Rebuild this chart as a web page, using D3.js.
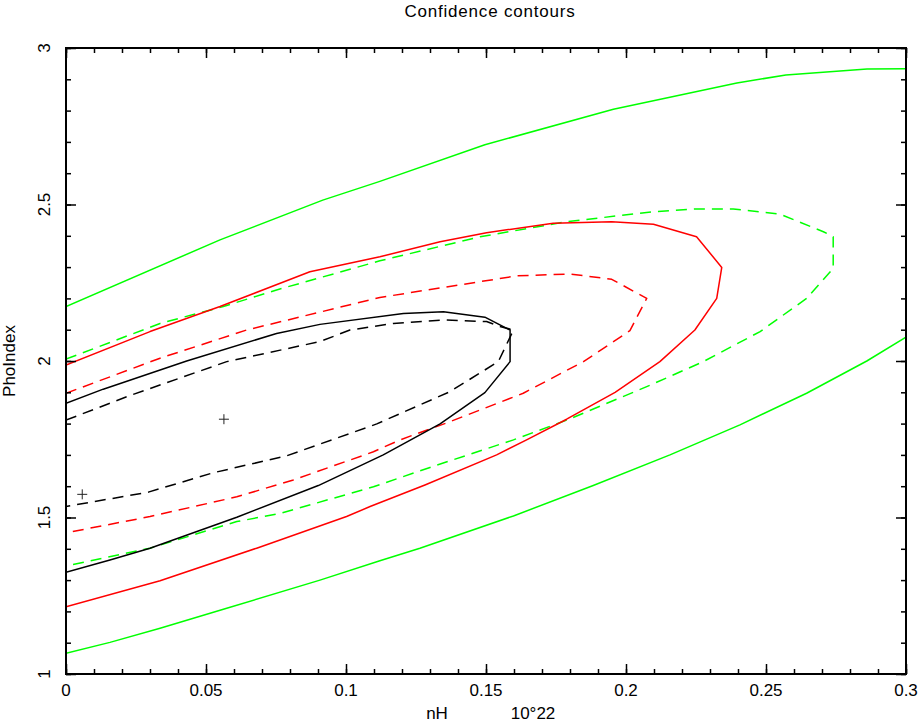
<!DOCTYPE html>
<html>
<head>
<meta charset="utf-8">
<script src="https://cdn.jsdelivr.net/npm/d3@7"></script>
<style>
  html, body { margin: 0; padding: 0; background: #fff; }
  svg { display: block; }
  text { font-family: "Liberation Sans", Arial, sans-serif; fill: #000; }
</style>
</head>
<body>
<script>
// ---- data ----
const chartTitle = "Confidence contours";
const xLabel = "nH";
const xUnit = "10°22";
const yLabel = "PhoIndex";
const xTickValues = [0, 0.05, 0.1, 0.15, 0.2, 0.25, 0.3];
const xTickLabels = ["0", "0.05", "0.1", "0.15", "0.2", "0.25", "0.3"];
const yTickValues = [1, 1.5, 2, 2.5, 3];
const yTickLabels = ["1", "1.5", "2", "2.5", "3"];

// outer (green, solid) contour: two open branches
const greenSolidUpper = [[0,2.174],[0.055,2.387],[0.0917,2.514],[0.1121,2.574],[0.1496,2.691],[0.1955,2.804],[0.2396,2.888],[0.2571,2.914],[0.2861,2.933],[0.3,2.934]];
const greenSolidLower = [[0,1.066],[0.0157,1.101],[0.0336,1.146],[0.0574,1.21],[0.0907,1.30],[0.1121,1.362],[0.1264,1.402],[0.1598,1.505],[0.1883,1.602],[0.2157,1.70],[0.2407,1.796],[0.2645,1.897],[0.286,2.0],[0.3,2.076]];
// green dashed contour
const greenDashed = [[0,2.006],[0.0336,2.12],[0.0562,2.174],[0.0752,2.227],[0.1121,2.32],[0.1479,2.397],[0.1788,2.445],[0.2098,2.477],[0.2252,2.486],[0.2383,2.486],[0.255,2.469],[0.2705,2.413],[0.274,2.397],[0.274,2.296],[0.2645,2.2],[0.2479,2.094],[0.2276,1.998],[0.2074,1.918],[0.1788,1.811],[0.1598,1.748],[0.13,1.66],[0.1098,1.598],[0.0764,1.513],[0.061,1.487],[0.03,1.402],[0,1.345]];
// red solid contour
const redSolid = [[0,1.987],[0.03,2.094],[0.055,2.174],[0.0871,2.285],[0.1121,2.333],[0.1336,2.381],[0.1502,2.41],[0.174,2.44],[0.1949,2.445],[0.2098,2.437],[0.2252,2.397],[0.2342,2.299],[0.2324,2.2],[0.2246,2.099],[0.2121,1.998],[0.1961,1.9],[0.1788,1.814],[0.1645,1.748],[0.1538,1.70],[0.1282,1.604],[0.1086,1.535],[0.1002,1.503],[0.0681,1.402],[0.0336,1.298],[0,1.215]];
// red dashed contour
const redDashed = [[0,1.897],[0.0336,2.009],[0.0645,2.099],[0.1121,2.203],[0.161,2.272],[0.18,2.278],[0.1949,2.261],[0.2074,2.2],[0.2014,2.097],[0.1848,1.998],[0.1633,1.897],[0.1371,1.806],[0.1193,1.748],[0.1098,1.71],[0.0812,1.62],[0.061,1.566],[0.03,1.503],[0,1.451]];
// black solid contour
const blackSolid = [[0,1.865],[0.0133,1.91],[0.0431,2.0],[0.0752,2.088],[0.0907,2.117],[0.1205,2.152],[0.1348,2.157],[0.1496,2.14],[0.1586,2.099],[0.1586,1.998],[0.1496,1.899],[0.1336,1.799],[0.1133,1.70],[0.0901,1.602],[0.061,1.501],[0.03,1.402],[0.0157,1.364],[0,1.325]];
// black dashed contour
const blackDashed = [[0,1.811],[0.0217,1.886],[0.0574,1.998],[0.0907,2.062],[0.1014,2.099],[0.1169,2.12],[0.1348,2.131],[0.1502,2.126],[0.155,2.11],[0.1598,2.099],[0.1544,1.998],[0.1371,1.902],[0.111,1.799],[0.0788,1.697],[0.0526,1.643],[0.0294,1.581],[0,1.535]];
// best-fit markers
const markers = [[0.0564,1.814],[0.0058,1.574]];

const contours = [
  { data: greenSolidUpper, color: "#00ff00", dash: null },
  { data: greenSolidLower, color: "#00ff00", dash: null },
  { data: greenDashed, color: "#00ff00", dash: "11,7" },
  { data: redSolid, color: "#ff0000", dash: null },
  { data: redDashed, color: "#ff0000", dash: "11,7" },
  { data: blackSolid, color: "#000000", dash: null },
  { data: blackDashed, color: "#000000", dash: "11,7" }
];

// ---- layout ----
const W = 921, H = 724;
const mLeft = 66, mRight = 906, mTop = 48, mBottom = 674;

const svg = d3.select("body").append("svg").attr("width", W).attr("height", H);
const x = d3.scaleLinear().domain([0, 0.3]).range([mLeft, mRight]);
const y = d3.scaleLinear().domain([1, 3]).range([mBottom, mTop]);

svg.append("defs").append("clipPath").attr("id", "clip")
  .append("rect").attr("x", mLeft).attr("y", mTop).attr("width", mRight - mLeft).attr("height", mBottom - mTop);

// contours
const line = d3.line().x(d => x(d[0])).y(d => y(d[1]));
const g = svg.append("g").attr("clip-path", "url(#clip)");
contours.forEach(c => {
  g.append("path").attr("d", line(c.data))
    .attr("fill", "none").attr("stroke", c.color).attr("stroke-width", 1.5)
    .attr("stroke-linejoin", "round")
    .attr("stroke-dasharray", c.dash);
});

// markers
markers.forEach(m => {
  const cx = x(m[0]), cy = y(m[1]);
  g.append("path").attr("d", `M${cx-5},${cy}H${cx+5}M${cx},${cy-5}V${cy+5}`)
    .attr("stroke", "#222").attr("stroke-width", 1);
});

// axes: minor & major ticks, inward
const xMinor = d3.range(0, 0.3001, 0.01);
const yMinor = d3.range(1, 3.0001, 0.1);
function styleAxis(sel) {
  sel.select(".domain").remove();
  sel.selectAll(".tick line").attr("stroke", "#000").attr("stroke-width", 1.5);
  sel.selectAll(".tick text").remove();
}
svg.append("g").attr("transform", `translate(0,${mBottom})`)
  .call(d3.axisBottom(x).tickValues(xMinor).tickSize(-5)).call(styleAxis);
svg.append("g").attr("transform", `translate(0,${mBottom})`)
  .call(d3.axisBottom(x).tickValues(xTickValues).tickSize(-10)).call(styleAxis);
svg.append("g").attr("transform", `translate(0,${mTop})`)
  .call(d3.axisTop(x).tickValues(xMinor).tickSize(-5)).call(styleAxis);
svg.append("g").attr("transform", `translate(0,${mTop})`)
  .call(d3.axisTop(x).tickValues(xTickValues).tickSize(-10)).call(styleAxis);
svg.append("g").attr("transform", `translate(${mLeft},0)`)
  .call(d3.axisLeft(y).tickValues(yMinor).tickSize(-5)).call(styleAxis);
svg.append("g").attr("transform", `translate(${mLeft},0)`)
  .call(d3.axisLeft(y).tickValues(yTickValues).tickSize(-10)).call(styleAxis);
svg.append("g").attr("transform", `translate(${mRight},0)`)
  .call(d3.axisRight(y).tickValues(yMinor).tickSize(-5)).call(styleAxis);
svg.append("g").attr("transform", `translate(${mRight},0)`)
  .call(d3.axisRight(y).tickValues(yTickValues).tickSize(-10)).call(styleAxis);

// frame
svg.append("rect").attr("x", mLeft).attr("y", mTop).attr("width", mRight - mLeft).attr("height", mBottom - mTop)
  .attr("fill", "none").attr("stroke", "#000").attr("stroke-width", 2);

// tick labels
const fs = 17;
xTickValues.forEach((v, i) => {
  svg.append("text").attr("x", x(v)).attr("y", 696).attr("text-anchor", "middle")
    .attr("font-size", fs).text(xTickLabels[i]);
});
yTickValues.forEach((v, i) => {
  svg.append("text").attr("transform", `translate(50,${y(v)}) rotate(-90)`)
    .attr("text-anchor", "middle").attr("font-size", fs).text(yTickLabels[i]);
});

// titles
svg.append("text").attr("x", 490).attr("y", 17).attr("text-anchor", "middle")
  .attr("font-size", fs).attr("letter-spacing", 0.8).text(chartTitle);
svg.append("text").attr("x", 437).attr("y", 719).attr("text-anchor", "middle")
  .attr("font-size", fs).text(xLabel);
svg.append("text").attr("x", 533).attr("y", 719).attr("text-anchor", "middle")
  .attr("font-size", fs).text(xUnit);
svg.append("text").attr("transform", `translate(15,361) rotate(-90)`)
  .attr("text-anchor", "middle").attr("font-size", fs).text(yLabel);
</script>
</body>
</html>
